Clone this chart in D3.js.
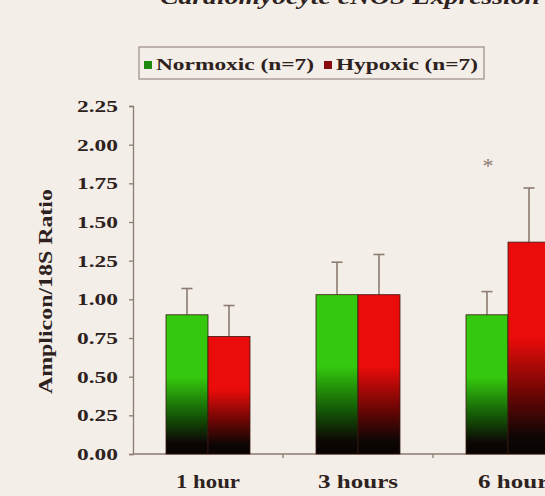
<!DOCTYPE html>
<html>
<head>
<meta charset="utf-8">
<script src="https://cdn.jsdelivr.net/npm/d3@7"></script>
<style>
  body { margin: 0; background: #f4eee8; }
  svg { display: block; }
</style>
</head>
<body>
<div id="chart"></div>
<script>
// values
const categories = ["1 hour", "3 hours", "6 hours"];
const groups = ["Normoxic (n=7)", "Hypoxic (n=7)"];
const normoxic = [0.90, 1.03, 0.90];
const hypoxic = [0.76, 1.03, 1.37];
const normoxicErr = [0.17, 0.21, 0.15];
const hypoxicErr = [0.20, 0.26, 0.35];
const yTicks = [0, 0.25, 0.5, 0.75, 1.0, 1.25, 1.5, 1.75, 2.0, 2.25];

const width = 545, height = 496;
const margin = { top: 106, left: 133, bottom: 42 };
const serif = "'Liberation Serif', 'DejaVu Serif', serif";

const svg = d3.select("#chart").append("svg")
    .attr("width", width)
    .attr("height", height);

const defs = svg.append("defs");
function grad(id, col, mid) {
    const g = defs.append("linearGradient")
        .attr("id", id)
        .attr("x1", 0).attr("y1", 0).attr("x2", 0).attr("y2", 1);
    g.append("stop").attr("offset", "0%").attr("stop-color", col);
    g.append("stop").attr("offset", "45%").attr("stop-color", col);
    g.append("stop").attr("offset", "72%").attr("stop-color", mid);
    g.append("stop").attr("offset", "92%").attr("stop-color", "#0c0604");
    g.append("stop").attr("offset", "100%").attr("stop-color", "#080302");
}
grad("gGreen", "#34c80e", "#145a06");
grad("gRed", "#ea0c0a", "#6a0604");

const y = d3.scaleLinear()
    .domain([0, 2.25])
    .range([height - margin.bottom, margin.top]);

const x = d3.scaleBand()
    .domain(categories)
    .range([margin.left, margin.left + 450]);

const xSub = d3.scaleBand()
    .domain(groups)
    .range([33, 117]);

const axisCol = "#8c7b70";
const textCol = "#2e2220";

// y axis
const yAxis = svg.append("g")
    .attr("transform", "translate(" + margin.left + ",0)")
    .call(d3.axisLeft(y).tickValues(yTicks).tickFormat(d3.format(".2f")).tickSize(4).tickPadding(11));
yAxis.select(".domain").attr("stroke", axisCol).attr("stroke-width", 1.3);
yAxis.selectAll(".tick line").attr("stroke", axisCol).attr("stroke-width", 1.3);
yAxis.selectAll(".tick text")
    .attr("fill", textCol)
    .attr("textLength", 41)
    .attr("lengthAdjust", "spacingAndGlyphs")
    .style("font-family", serif)
    .style("font-weight", "bold")
    .style("font-size", "17px");

// x axis baseline
svg.append("line")
    .attr("x1", margin.left).attr("x2", width)
    .attr("y1", y(0)).attr("y2", y(0))
    .attr("stroke", axisCol).attr("stroke-width", 1.3);

svg.selectAll(".xtick")
    .data(categories.slice(0, 2))
    .join("line")
    .attr("x1", d => x(d) + x.bandwidth())
    .attr("x2", d => x(d) + x.bandwidth())
    .attr("y1", y(0)).attr("y2", y(0) + 4)
    .attr("stroke", axisCol).attr("stroke-width", 1.3);

const xLabLen = { "1 hour": 64, "3 hours": 80, "6 hours": 80 };
svg.selectAll(".xlab")
    .data(categories)
    .join("text")
    .attr("x", d => x(d) + x.bandwidth() / 2 + (d === "6 hours" ? 10 : 0))
    .attr("y", y(0) + 34)
    .attr("text-anchor", "middle")
    .attr("fill", textCol)
    .attr("textLength", d => xLabLen[d])
    .attr("lengthAdjust", "spacingAndGlyphs")
    .style("font-family", serif)
    .style("font-weight", "bold")
    .style("font-size", "18px")
    .text(d => d);

// bars
const rows = categories.map((c, i) => [
    { cat: c, g: groups[0], v: normoxic[i], e: normoxicErr[i], fill: "url(#gGreen)" },
    { cat: c, g: groups[1], v: hypoxic[i], e: hypoxicErr[i], fill: "url(#gRed)" }
]).flat();

// error bars (upward only)
const err = svg.append("g").attr("stroke", axisCol).attr("stroke-width", 1.6);
err.selectAll(".ev")
    .data(rows)
    .join("line")
    .attr("x1", d => x(d.cat) + xSub(d.g) + xSub.bandwidth() / 2)
    .attr("x2", d => x(d.cat) + xSub(d.g) + xSub.bandwidth() / 2)
    .attr("y1", d => y(d.v))
    .attr("y2", d => y(d.v + d.e));
err.selectAll(".ec")
    .data(rows)
    .join("line")
    .attr("x1", d => x(d.cat) + xSub(d.g) + xSub.bandwidth() / 2 - 5.5)
    .attr("x2", d => x(d.cat) + xSub(d.g) + xSub.bandwidth() / 2 + 5.5)
    .attr("y1", d => y(d.v + d.e))
    .attr("y2", d => y(d.v + d.e));

svg.append("g")
    .selectAll("rect")
    .data(rows)
    .join("rect")
    .attr("x", d => x(d.cat) + xSub(d.g))
    .attr("y", d => y(d.v))
    .attr("width", xSub.bandwidth())
    .attr("height", d => y(0) - y(d.v))
    .attr("fill", d => d.fill)
    .attr("stroke", "#3a1a12")
    .attr("stroke-width", 0.8);

// significance star over 6 hours
svg.append("text")
    .attr("x", x("6 hours") + x.bandwidth() / 2 - 20)
    .attr("y", y(1.82))
    .attr("text-anchor", "middle")
    .attr("fill", "#8a7a72")
    .style("font-family", serif)
    .style("font-size", "22px")
    .text("*");

// y label
svg.append("text")
    .attr("transform", "translate(52," + y(1.05) + ") rotate(-90)")
    .attr("text-anchor", "middle")
    .attr("fill", textCol)
    .attr("textLength", 205)
    .attr("lengthAdjust", "spacingAndGlyphs")
    .style("font-family", serif)
    .style("font-weight", "bold")
    .style("font-size", "19px")
    .text("Amplicon/18S Ratio");

// legend
const legend = svg.append("g");
legend.append("rect")
    .attr("x", 139).attr("y", 47)
    .attr("width", 345).attr("height", 32)
    .attr("fill", "none")
    .attr("stroke", "#9a8c84")
    .attr("stroke-width", 1.2);
const legendItems = [
    { label: groups[0], col: "#1f8a12", x: 144, len: 158 },
    { label: groups[1], col: "#8a0c10", x: 324, len: 142 }
];
legendItems.forEach(d => {
    legend.append("rect")
        .attr("x", d.x).attr("y", 61)
        .attr("width", 8).attr("height", 8)
        .attr("fill", d.col);
    legend.append("text")
        .attr("x", d.x + 12).attr("y", 70)
        .attr("fill", textCol)
        .attr("textLength", d.len)
        .attr("lengthAdjust", "spacingAndGlyphs")
        .style("font-family", serif)
        .style("font-weight", "bold")
        .style("font-size", "17px")
        .text(d.label);
});

// title of the page, cut by the top edge as in the scan
svg.append("text")
    .attr("x", 540).attr("y", 4)
    .attr("text-anchor", "end")
    .attr("fill", textCol)
    .attr("textLength", 380)
    .attr("lengthAdjust", "spacingAndGlyphs")
    .style("font-family", serif)
    .style("font-weight", "bold")
    .style("font-style", "italic")
    .style("font-size", "22px")
    .text("Cardiomyocyte eNOS Expression");
</script>
</body>
</html>
